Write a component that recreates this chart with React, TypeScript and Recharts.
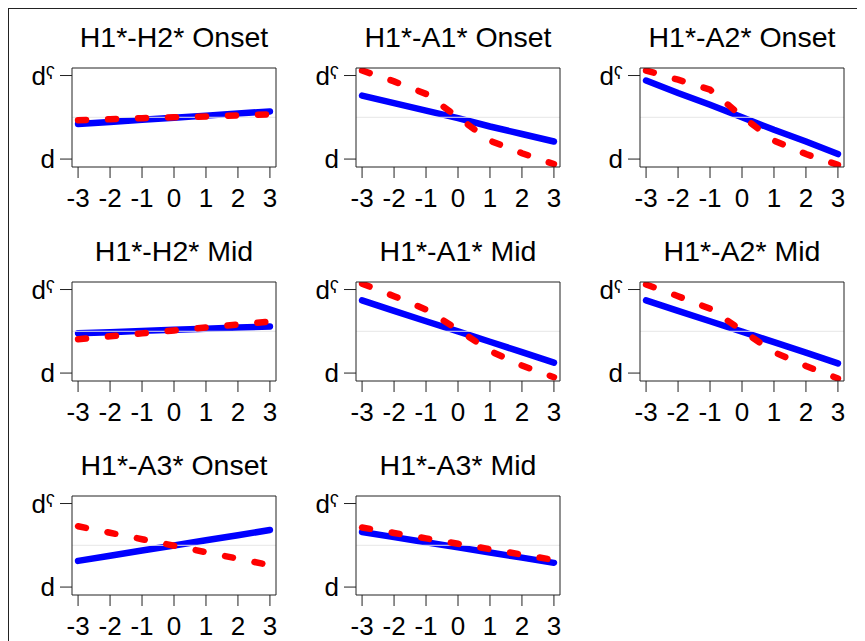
import { Line, LineChart, ReferenceLine, XAxis, YAxis } from "recharts";

const X_VALUES = [-3, -2, -1, 0, 1, 2, 3];
const X_TICKS = [-3, -2, -1, 0, 1, 2, 3];
const Y_TICKS = [0, 1];
const Y_LABELS = ["d", "dˤ"];

const TITLES = [
  "H1*-H2* Onset",
  "H1*-A1* Onset",
  "H1*-A2* Onset",
  "H1*-H2* Mid",
  "H1*-A1* Mid",
  "H1*-A2* Mid",
  "H1*-A3* Onset",
  "H1*-A3* Mid",
];

// blue = solid line, red = dashed line
const h1h2OnsetBlue = [0.42, 0.445, 0.47, 0.495, 0.52, 0.545, 0.57];
const h1h2OnsetRed = [0.465, 0.477, 0.49, 0.5, 0.51, 0.523, 0.535];
const h1a1OnsetBlue = [0.76, 0.67, 0.58, 0.49, 0.39, 0.3, 0.21];
const h1a1OnsetRed = [1.06, 0.93, 0.78, 0.5, 0.22, 0.07, -0.06];
const h1a2OnsetBlue = [0.94, 0.79, 0.65, 0.5, 0.35, 0.21, 0.06];
const h1a2OnsetRed = [1.06, 0.95, 0.83, 0.51, 0.22, 0.06, -0.07];
const h1h2MidBlue = [0.478, 0.49, 0.505, 0.518, 0.531, 0.545, 0.558];
const h1h2MidRed = [0.405, 0.44, 0.475, 0.51, 0.545, 0.58, 0.618];
const h1a1MidBlue = [0.87, 0.745, 0.62, 0.5, 0.375, 0.25, 0.125];
const h1a1MidRed = [1.07, 0.92, 0.76, 0.52, 0.265, 0.09, -0.05];
const h1a2MidBlue = [0.87, 0.745, 0.62, 0.495, 0.37, 0.245, 0.116];
const h1a2MidRed = [1.06, 0.92, 0.77, 0.51, 0.25, 0.085, -0.065];
const h1a3OnsetBlue = [0.313, 0.375, 0.437, 0.498, 0.56, 0.62, 0.683];
const h1a3OnsetRed = [0.728, 0.65, 0.573, 0.495, 0.417, 0.34, 0.262];
const h1a3MidBlue = [0.66, 0.598, 0.537, 0.475, 0.413, 0.352, 0.29];
const h1a3MidRed = [0.713, 0.648, 0.583, 0.518, 0.454, 0.389, 0.324];

const BLUE_SERIES = [
  h1h2OnsetBlue, h1a1OnsetBlue, h1a2OnsetBlue,
  h1h2MidBlue, h1a1MidBlue, h1a2MidBlue,
  h1a3OnsetBlue, h1a3MidBlue,
];
const RED_SERIES = [
  h1h2OnsetRed, h1a1OnsetRed, h1a2OnsetRed,
  h1h2MidRed, h1a1MidRed, h1a2MidRed,
  h1a3OnsetRed, h1a3MidRed,
];

const X_DOMAIN = [-3.19, 3.19];
const Y_DOMAIN = [-0.095, 1.09];
const AXIS_COLOR = "#222";
const FONT = "'Liberation Sans', Arial, Helvetica, sans-serif";

const PANEL_W = 284;
const PANEL_H = 214;

function Panel({ title, blue, red }: { title: string; blue: number[]; red: number[] }) {
  const data = X_VALUES.map((x, i) => ({ x, blue: blue[i], red: red[i] }));
  return (
    <div style={{ position: "relative", width: PANEL_W, height: PANEL_H }}>
      <div
        style={{
          position: "absolute",
          left: 40,
          width: 252,
          top: 15,
          textAlign: "center",
          fontSize: 28.5,
          lineHeight: "28px",
          whiteSpace: "nowrap",
          color: "#000",
        }}
      >
        {title}
      </div>
      <LineChart width={PANEL_W} height={PANEL_H} data={data} margin={{ top: 48, right: 4, bottom: 0, left: 4 }}>
        <XAxis
          xAxisId="b"
          dataKey="x"
          type="number"
          domain={X_DOMAIN}
          ticks={X_TICKS}
          allowDataOverflow
          interval={0}
          height={55}
          tickSize={11}
          tickMargin={11}
          stroke={AXIS_COLOR}
          tick={{ fill: "#000", fontSize: 26 }}
        />
        <XAxis
          xAxisId="t"
          orientation="top"
          dataKey="x"
          type="number"
          domain={X_DOMAIN}
          ticks={X_TICKS}
          allowDataOverflow
          interval={0}
          height={12}
          tickSize={11}
          stroke={AXIS_COLOR}
          tick={false}
        />
        <YAxis
          yAxisId="l"
          type="number"
          domain={Y_DOMAIN}
          ticks={Y_TICKS}
          allowDataOverflow
          interval={0}
          width={60}
          tickSize={12}
          tickMargin={5}
          stroke={AXIS_COLOR}
          tickFormatter={(v) => Y_LABELS[Number(v)]}
          tick={{ fill: "#000", fontSize: 26 }}
        />
        <YAxis
          yAxisId="r"
          orientation="right"
          type="number"
          domain={Y_DOMAIN}
          ticks={Y_TICKS}
          allowDataOverflow
          interval={0}
          width={12}
          tickSize={12}
          stroke={AXIS_COLOR}
          tick={false}
        />
        <Line
          xAxisId="b"
          yAxisId="l"
          type="linear"
          dataKey="blue"
          stroke="#0000ff"
          strokeWidth={6.5}
          strokeLinecap="round"
          dot={false}
          activeDot={false}
          isAnimationActive={false}
        />
        <ReferenceLine xAxisId="b" yAxisId="l" y={0.5} stroke="#e6e6e6" strokeWidth={1} />
        <Line
          xAxisId="b"
          yAxisId="l"
          type="linear"
          dataKey="red"
          stroke="#ff0000"
          strokeWidth={6.5}
          strokeDasharray="8 22"
          strokeLinecap="round"
          dot={false}
          activeDot={false}
          isAnimationActive={false}
        />
      </LineChart>
    </div>
  );
}

export default function App() {
  return (
    <div
      style={{
        position: "relative",
        width: 857,
        height: 633,
        boxSizing: "border-box",
        borderTop: `1px solid ${AXIS_COLOR}`,
        borderLeft: `1px solid ${AXIS_COLOR}`,
        overflow: "hidden",
        fontFamily: FONT,
        background: "#fff",
      }}
    >
      {TITLES.map((title, i) => (
        <div
          key={title}
          style={{
            position: "absolute",
            left: (i % 3) * PANEL_W - 1,
            top: Math.floor(i / 3) * PANEL_H - 1,
          }}
        >
          <Panel title={title} blue={BLUE_SERIES[i]} red={RED_SERIES[i]} />
        </div>
      ))}
    </div>
  );
}
